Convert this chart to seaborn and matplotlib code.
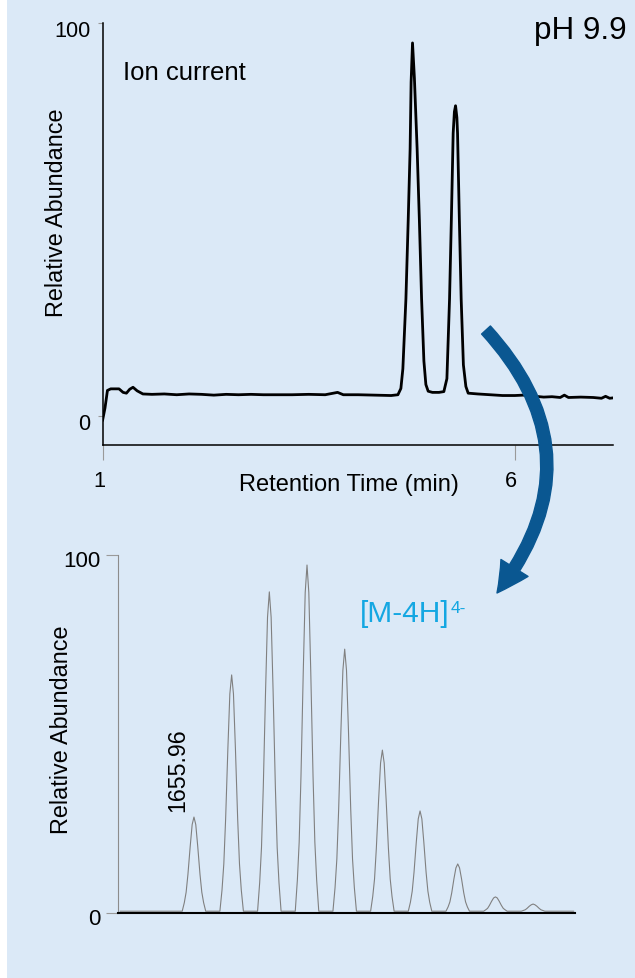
import numpy as np
import pandas as pd
import seaborn as sns
import matplotlib
matplotlib.use("Agg")
import matplotlib.pyplot as plt
from matplotlib.patches import FancyArrowPatch, Rectangle
import matplotlib.transforms as mtransforms

# ---------------- data ----------------
# total ion current chromatogram (time in min, relative abundance)
ion_time = [1.00, 1.03, 1.06, 1.10, 1.20, 1.25, 1.29, 1.33, 1.37, 1.42,
            1.49, 1.60, 1.75, 1.90, 2.05, 2.20, 2.35, 2.50, 2.65, 2.80,
            2.95, 3.10, 3.30, 3.50, 3.70, 3.85, 3.92, 4.10, 4.30, 4.50,
            4.582, 4.618, 4.642, 4.679, 4.707, 4.730, 4.742, 4.759, 4.782, 4.815,
            4.842, 4.869, 4.897, 4.921, 4.949, 5.00, 5.08, 5.139, 5.176, 5.208,
            5.230, 5.252, 5.267, 5.281, 5.297, 5.305, 5.327, 5.349, 5.376, 5.406,
            5.434, 5.55, 5.70, 5.85, 6.00, 6.10, 6.20, 6.35, 6.45, 6.55,
            6.60, 6.65, 6.80, 6.95, 7.05, 7.10, 7.15, 7.19]
ion_abund = [-1.2, 2.0, 6.5, 6.9, 6.9, 6.0, 5.8, 6.8, 7.3, 6.4,
             5.6, 5.5, 5.6, 5.4, 5.6, 5.5, 5.3, 5.5, 5.4, 5.5,
             5.4, 5.4, 5.4, 5.5, 5.4, 6.0, 5.4, 5.4, 5.3, 5.2,
             5.4, 7.0, 12.0, 29.8, 50.0, 68.0, 85.0, 95.0, 86.0, 68.0,
             50.0, 29.8, 14.0, 8.0, 6.3, 6.0, 6.0, 6.2, 9.5, 29.8,
             50.0, 72.0, 77.5, 79.0, 76.0, 72.0, 50.0, 29.8, 13.0, 7.5,
             5.8, 5.6, 5.4, 5.2, 5.2, 5.3, 5.1, 4.8, 4.9, 4.7,
             5.3, 4.7, 4.8, 4.7, 4.5, 5.0, 4.5, 4.6]

# isotope cluster of the [M-4H]4- ion (m/z, relative abundance)
spec_mz = [1655.47,
           1655.882, 1655.896, 1655.908, 1655.920, 1655.935, 1655.948, 1655.960,
           1655.972, 1655.985, 1656.000, 1656.012, 1656.024, 1656.038,
           1656.132, 1656.146, 1656.158, 1656.170, 1656.185, 1656.198, 1656.210,
           1656.222, 1656.235, 1656.250, 1656.262, 1656.274, 1656.288,
           1656.382, 1656.396, 1656.408, 1656.420, 1656.435, 1656.448, 1656.460,
           1656.472, 1656.485, 1656.500, 1656.512, 1656.524, 1656.538,
           1656.632, 1656.646, 1656.658, 1656.670, 1656.685, 1656.698, 1656.710,
           1656.722, 1656.735, 1656.750, 1656.762, 1656.774, 1656.788,
           1656.882, 1656.896, 1656.908, 1656.920, 1656.935, 1656.948, 1656.960,
           1656.972, 1656.985, 1657.000, 1657.012, 1657.024, 1657.038,
           1657.132, 1657.146, 1657.158, 1657.170, 1657.185, 1657.198, 1657.210,
           1657.222, 1657.235, 1657.250, 1657.262, 1657.274, 1657.288,
           1657.382, 1657.396, 1657.408, 1657.420, 1657.435, 1657.448, 1657.460,
           1657.472, 1657.485, 1657.500, 1657.512, 1657.524, 1657.538,
           1657.632, 1657.646, 1657.658, 1657.670, 1657.685, 1657.698, 1657.710,
           1657.722, 1657.735, 1657.750, 1657.762, 1657.774, 1657.788,
           1657.882, 1657.896, 1657.908, 1657.920, 1657.935, 1657.948, 1657.960,
           1657.972, 1657.985, 1658.000, 1658.012, 1658.024, 1658.038,
           1658.132, 1658.146, 1658.158, 1658.170, 1658.185, 1658.198, 1658.210,
           1658.222, 1658.235, 1658.250, 1658.262, 1658.274, 1658.288,
           1658.48]
spec_int = [0.5,
            0.5, 2.9, 5.8, 10.8, 18.6, 24.7, 26.8, 24.7, 18.6, 10.8, 5.8, 2.9, 0.5,
            0.5, 6.4, 13.7, 26.2, 46.0, 61.2, 66.5, 61.2, 46.0, 26.2, 13.7, 6.4, 0.5,
            0.5, 8.5, 18.3, 35.3, 62.0, 82.6, 89.7, 82.6, 62.0, 35.3, 18.3, 8.5, 0.5,
            0.5, 9.2, 19.8, 38.2, 67.2, 89.5, 97.2, 89.5, 67.2, 38.2, 19.8, 9.2, 0.5,
            0.5, 7.1, 15.1, 29.0, 51.0, 67.8, 73.7, 67.8, 51.0, 29.0, 15.1, 7.1, 0.5,
            0.5, 4.6, 9.5, 18.1, 31.6, 41.9, 45.5, 41.9, 31.6, 18.1, 9.5, 4.6, 0.5,
            0.5, 3.0, 6.1, 11.4, 19.8, 26.3, 28.5, 26.3, 19.8, 11.4, 6.1, 3.0, 0.5,
            0.5, 1.7, 3.1, 5.6, 9.6, 12.6, 13.7, 12.6, 9.6, 5.6, 3.1, 1.7, 0.5,
            0.5, 0.9, 1.3, 2.1, 3.3, 4.2, 4.5, 4.2, 3.3, 2.1, 1.3, 0.9, 0.5,
            0.5, 0.7, 0.9, 1.3, 1.9, 2.3, 2.5, 2.3, 1.9, 1.3, 0.9, 0.7, 0.5,
            0.5]

top_xticks = [1, 6]
top_xticklabels = ["1", "6"]
yticks = [0, 100]
yticklabels = ["0", "100"]
first_peak_label = "1655.96"

# ---------------- figure ----------------
sns.set_theme(style="white")
plt.rcParams["font.family"] = ["Liberation Sans", "DejaVu Sans"]

W, H = 635, 979
fig = plt.figure(figsize=(W / 100, H / 100), dpi=100)
fig.patch.set_facecolor("#dbe9f7")
fig.patches.append(Rectangle((0, 0), 7 / W, 1, transform=fig.transFigure,
                             facecolor="white", edgecolor="none", zorder=0))


def fx(x):
    return x / W


def fy(y):
    return 1 - y / H


# ---- top: ion current ----
ax1 = fig.add_axes([fx(102.5), fy(446), fx(613) - fx(102.5), fy(24.3) - fy(446)])
ax1.set_facecolor("none")
df1 = pd.DataFrame({"time": ion_time, "abundance": ion_abund})
sns.lineplot(data=df1, x="time", y="abundance", ax=ax1, color="black",
             linewidth=2.0, sort=False, estimator=None)
ax1.set_xlim(1, 7.19)
ax1.set_ylim(-7.4, 100)
for s in ["top", "right"]:
    ax1.spines[s].set_visible(False)
for s in ["left", "bottom"]:
    ax1.spines[s].set_color("black")
    ax1.spines[s].set_linewidth(1.1)
ax1.set_xticks(top_xticks)
ax1.set_xticklabels(top_xticklabels)
ax1.set_yticks(yticks)
ax1.set_yticklabels(yticklabels)
ax1.tick_params(axis="x", bottom=True, direction="out", length=11, width=0.8,
                color="#9a9a9a", pad=7, labelsize=15.7, labelcolor="black")
ax1.tick_params(axis="y", left=True, direction="out", length=3.6, width=0.8,
                color="#9a9a9a", pad=5, labelsize=15.7, labelcolor="black")
ax1.set_xlabel("Retention Time (min)", fontsize=17, color="black")
ax1.xaxis.set_label_coords((349 - 102.5) / 510.5, (446 - 474) / 421.7)
ax1.xaxis.label.set_va("top")
ax1.set_ylabel("Relative Abundance", fontsize=16.8, color="black")
ax1.yaxis.set_label_coords((57 - 102.5) / 510.5, (446 - 212.5) / 421.7)
ax1.yaxis.label.set_rotation_mode("default")
ax1.yaxis.label.set_va("center")

off_x = mtransforms.ScaledTranslation(-3.5 / 100, 0, fig.dpi_scale_trans)
for lbl in ax1.get_xticklabels():
    lbl.set_transform(lbl.get_transform() + off_x)
off_y1 = mtransforms.ScaledTranslation(0, -5 / 100, fig.dpi_scale_trans)
for lbl in ax1.get_yticklabels():
    lbl.set_transform(lbl.get_transform() + off_y1)

fig.text(fx(123), fy(79.5), "Ion current", fontsize=18.5, ha="left",
         va="baseline", color="black")
fig.text(fx(627), fy(39.3), "pH 9.9", fontsize=22.6, ha="right",
         va="baseline", color="black")

# ---- bottom: mass spectrum ----
ax2 = fig.add_axes([fx(118), fy(914), fx(575) - fx(118), fy(556) - fy(914)])
ax2.set_facecolor("none")
df2 = pd.DataFrame({"mz": spec_mz, "intensity": spec_int})
sns.lineplot(data=df2, x="mz", y="intensity", ax=ax2, color="#808080",
             linewidth=0.8, sort=False, estimator=None)
ax2.set_xlim(1655.456, 1658.488)
ax2.set_ylim(0, 100)
for s in ["top", "right"]:
    ax2.spines[s].set_visible(False)
ax2.spines["left"].set_color("#8c8c8c")
ax2.spines["left"].set_linewidth(0.8)
ax2.spines["bottom"].set_color("black")
ax2.spines["bottom"].set_linewidth(1.5)
ax2.set_xticks([])
ax2.set_yticks(yticks)
ax2.set_yticklabels(yticklabels)
ax2.tick_params(axis="y", left=True, direction="out", length=9, width=0.8,
                color="#9a9a9a", pad=3.6, labelsize=16, labelcolor="black")
ax2.set_xlabel("")
ax2.set_ylabel("Relative Abundance", fontsize=16.8, color="black")
ax2.yaxis.set_label_coords((62 - 118) / 457, (914 - 730) / 358)
ax2.yaxis.label.set_rotation_mode("default")
ax2.yaxis.label.set_va("center")
off_y2 = mtransforms.ScaledTranslation(0, -3 / 100, fig.dpi_scale_trans)
for lbl in ax2.get_yticklabels():
    lbl.set_transform(lbl.get_transform() + off_y2)

fig.text(fx(177.5), fy(770), first_peak_label, fontsize=16.7, rotation=90,
         ha="center", va="center", color="black")

cyan = "#14a7e2"
fig.text(fx(360), fy(622.5), "[M-4H]", fontsize=21.5, ha="left",
         va="baseline", color=cyan)
fig.text(fx(451), fy(613), "4-", fontsize=12.5, ha="left",
         va="baseline", color=cyan)

# ---- curved arrow ----
arrow = FancyArrowPatch(
    posA=(fx(486), fy(331)), posB=(fx(497), fy(594)),
    transform=fig.transFigure,
    connectionstyle="arc3,rad=-0.42",
    arrowstyle="simple,head_length=1.1,head_width=1.15,tail_width=0.43",
    mutation_scale=20, color="#0a5791", shrinkA=0, shrinkB=0, zorder=5)
fig.patches.append(arrow)

fig.savefig("out.png", dpi=100, facecolor=fig.get_facecolor())
